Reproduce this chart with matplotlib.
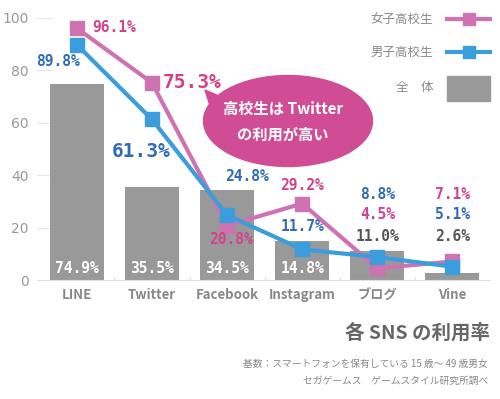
import matplotlib
matplotlib.use("Agg")
import matplotlib.pyplot as plt
from matplotlib.patches import Ellipse, Polygon, Rectangle
from matplotlib.lines import Line2D

plt.rcParams['font.family'] = ['Noto Sans CJK JP', 'DejaVu Sans']

categories = ["LINE", "Twitter", "Facebook", "Instagram", "ブログ", "Vine"]
overall = [74.9, 35.5, 34.5, 14.8, 11.0, 2.6]
girls = [96.1, 75.3, 20.8, 29.2, 4.5, 7.1]
boys = [89.8, 61.3, 24.8, 11.7, 8.8, 5.1]
yticks = [0, 20, 40, 60, 80, 100]

PINK_LINE = "#cf72b2"
BLUE_LINE = "#3b9ddc"
PINK_TXT = "#d3418a"
BLUE_TXT = "#2f6cb6"
GREY = "#999999"
GREY_TXT = "#555555"

fig = plt.figure(figsize=(5, 3.99), dpi=100)
ax = fig.add_axes([0.074, 0.298, 0.906, 0.657])
x = list(range(len(categories)))

ax.bar(x, overall, width=0.72, color=GREY, zorder=1)
ax.plot(x, girls, color=PINK_LINE, lw=3, marker='s', ms=10, zorder=3)
ax.plot(x, boys, color=BLUE_LINE, lw=3, marker='s', ms=10, zorder=4)

ax.set_xlim(-0.53, 5.5)
ax.set_ylim(0, 100)
ax.set_yticks(yticks)
ax.set_yticklabels([str(v) for v in yticks], color="#999999", fontsize=10, family='DejaVu Sans')
ax.set_xticks(x)
ax.set_xticklabels(categories, color="#888888", fontsize=9.5, fontweight='bold')
ax.tick_params(axis='both', length=0, pad=6)
for s in ['top', 'right', 'left']:
    ax.spines[s].set_visible(False)
ax.spines['bottom'].set_color("#e0e0e0")
for v in yticks[1:]:
    ax.plot([-0.53, -0.33], [v, v], color="#e6e6e6", lw=0.8, zorder=0, clip_on=False)
for xi in range(len(categories)):
    ax.plot([xi + 0.5, xi + 0.5], [0, 1.2], color="#e0e0e0", lw=0.8, zorder=0)

mono = dict(family='DejaVu Sans Mono', fontweight='bold')
# bar inner labels
for xi, v in zip(x[:4], overall[:4]):
    ax.text(xi, 4.5, f"{v}%", color='white', ha='center', va='center', fontsize=10.5, **mono)

# series labels
def lab(xx, yy, t, c, fs=10.5, ha='center'):
    ax.text(xx, yy, t, color=c, ha=ha, va='center', fontsize=fs, **mono)

lab(0.2, 96.5, f"{girls[0]}%", PINK_TXT, ha='left')
lab(-0.25, 83.5, f"{boys[0]}%", BLUE_TXT)
lab(1.15, 75.5, f"{girls[1]}%", PINK_TXT, fs=14, ha='left')
lab(0.85, 49, f"{boys[1]}%", BLUE_TXT, fs=14)
lab(2.27, 39.5, f"{boys[2]}%", BLUE_TXT)
lab(2.05, 15.5, f"{girls[2]}%", PINK_TXT)
lab(3.0, 36, f"{girls[3]}%", PINK_TXT)
lab(3.0, 20.5, f"{boys[3]}%", BLUE_TXT)
lab(4.0, 32.5, f"{boys[4]}%", BLUE_TXT)
lab(4.0, 25, f"{girls[4]}%", PINK_TXT)
lab(4.0, 16.5, f"{overall[4]}%", GREY_TXT)
lab(5.0, 32.5, f"{girls[5]}%", PINK_TXT)
lab(5.0, 25, f"{boys[5]}%", BLUE_TXT)
lab(5.0, 16.5, f"{overall[5]}%", GREY_TXT)

# speech bubble (figure pixel coords)
def px(xp, yp):
    return (xp / 500, 1 - yp / 399)

BUB = "#d04d95"
ell = Ellipse(px(288, 121), 169 / 500, 91 / 399, transform=fig.transFigure,
              color=BUB, zorder=5)
fig.patches.append(ell)
tail = Polygon([px(205, 90), px(226, 99), px(212, 112)], closed=True,
               transform=fig.transFigure, color=BUB, zorder=5)
fig.patches.append(tail)
fig.text(*px(283, 109), "高校生は Twitter", color='white', fontsize=11,
         fontweight='bold', ha='center', va='center', zorder=6)
fig.text(*px(283, 135), "の利用が高い", color='white', fontsize=11,
         fontweight='bold', ha='center', va='center', zorder=6)

# legend
fig.text(*px(433, 19), "女子高校生", color="#888888", fontsize=9, ha='right', va='center')
fig.text(*px(433, 52), "男子高校生", color="#888888", fontsize=9, ha='right', va='center')
fig.text(*px(433, 88), "全　体", color="#888888", fontsize=9, ha='right', va='center')
for yp, c in [(19, PINK_LINE), (52, BLUE_LINE)]:
    fig.lines.append(Line2D([447 / 500, 490 / 500], [1 - yp / 399] * 2, color=c, lw=3,
                            transform=fig.transFigure))
    fig.lines.append(Line2D([468.5 / 500], [1 - yp / 399], color=c, marker='s', ms=8,
                            transform=fig.transFigure))
fig.patches.append(Rectangle(px(447, 101), 43 / 500, 25 / 399, transform=fig.transFigure,
                             color=GREY))

# titles
fig.text(*px(490, 333), "各 SNS の利用率", color="#666666", fontsize=14,
         fontweight='bold', ha='right', va='center')
fig.text(*px(488, 364), "基数：スマートフォンを保有している 15 歳～ 49 歳男女", color="#888888",
         fontsize=7, ha='right', va='center')
fig.text(*px(488, 381), "セガゲームス　ゲームスタイル研究所調べ", color="#888888",
         fontsize=7, ha='right', va='center')

fig.savefig("out.png", dpi=100)
